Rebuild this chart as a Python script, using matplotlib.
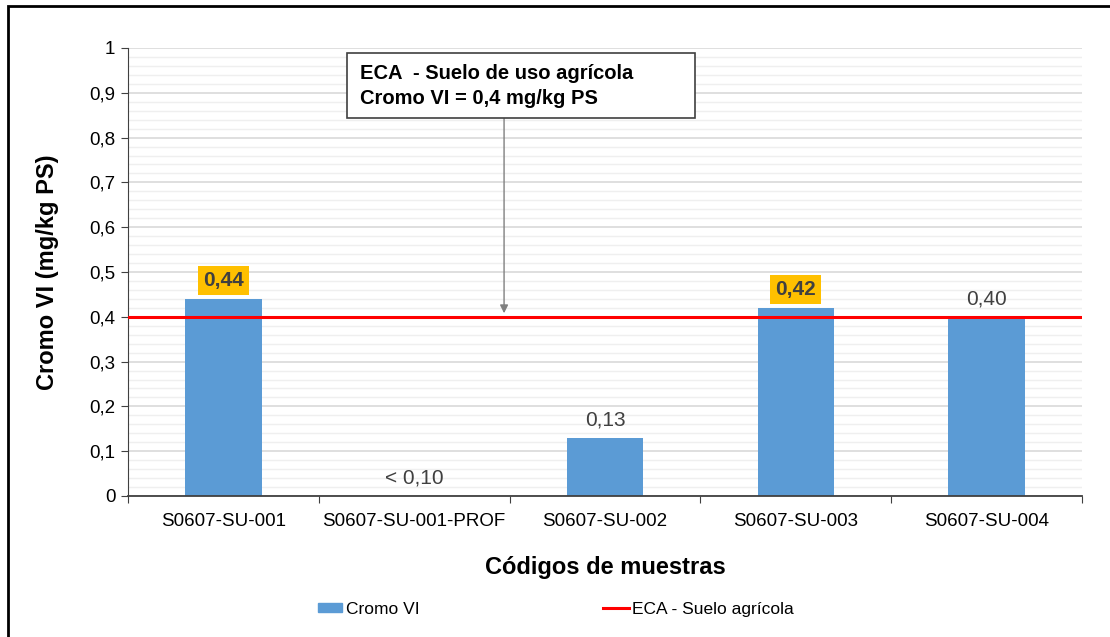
import matplotlib.pyplot as plt
import matplotlib.patches as mpatches
from matplotlib.lines import Line2D
import numpy as np

plt.rcParams['font.family'] = ['Liberation Sans', 'DejaVu Sans']

muestras = ['S0607-SU-001', 'S0607-SU-001-PROF', 'S0607-SU-002', 'S0607-SU-003', 'S0607-SU-004']
cromo_vi = [0.44, 0.0, 0.13, 0.42, 0.40]
etiquetas = ['0,44', '< 0,10', '0,13', '0,42', '0,40']
excede = [True, False, False, True, False]
eca = 0.4

fig = plt.figure(figsize=(11.1, 6.37), dpi=100)
ax = fig.add_axes([128 / 1110, 1 - 496 / 637, (1082 - 128) / 1110, (496 - 48) / 637])

# outer frame (left/top edges only show in the crop)
fig.patches.append(mpatches.Rectangle((8 / 1110, -0.05), 1.2, 1 - 6 / 637 + 0.05,
                                      transform=fig.transFigure, fill=False,
                                      edgecolor='black', linewidth=2))

x = np.arange(len(muestras))
ax.bar(x, cromo_vi, width=0.4, color='#5B9BD5', zorder=2)
ax.axhline(eca, color='#FF0000', linewidth=2.2, zorder=3)

for xi, v, lab, ex in zip(x, cromo_vi, etiquetas, excede):
    if ex:
        ax.text(xi, v + 0.04, lab, ha='center', va='center', fontsize=15,
                fontweight='bold', color='#404040', zorder=4,
                bbox=dict(boxstyle='square,pad=0.24', facecolor='#FFC000', edgecolor='none'))
    else:
        ax.text(xi, v + 0.04, lab, ha='center', va='center', fontsize=15,
                color='#404040', zorder=4)

ax.set_xlim(-0.5, len(muestras) - 0.5)
ax.set_ylim(0, 1)
ax.set_yticks(np.arange(0, 1.01, 0.1))
ax.set_yticklabels(['0'] + [f'{v:.1f}'.replace('.', ',') for v in np.arange(0.1, 0.95, 0.1)] + ['1'])
ax.set_yticks(np.arange(0, 1.001, 0.02), minor=True)
ax.tick_params(axis='y', which='minor', length=0)
ax.tick_params(axis='y', which='major', length=5, color='#404040', labelsize=13.5, pad=4)
ax.grid(axis='y', which='major', color='#D9D9D9', linewidth=1.2, zorder=0)
ax.grid(axis='y', which='minor', color='#EFEFEF', linewidth=1.0, zorder=0)
ax.set_axisbelow(True)

ax.set_xticks(np.arange(-0.5, len(muestras), 1.0))
ax.set_xticklabels([])
ax.set_xticks(x, minor=True)
ax.set_xticklabels(muestras, minor=True)
ax.tick_params(axis='x', which='major', length=5, color='#404040')
ax.tick_params(axis='x', which='minor', length=0, labelsize=13.5, pad=12)

for s in ['top', 'right']:
    ax.spines[s].set_visible(False)
ax.spines['left'].set_color('#404040')
ax.spines['bottom'].set_color('#404040')
ax.spines['bottom'].set_linewidth(1.3)

ax.set_ylabel('Cromo VI (mg/kg PS)', fontsize=17, fontweight='bold', labelpad=22)
ax.set_xlabel('Códigos de muestras', fontsize=17, fontweight='bold', labelpad=19)

# ECA annotation box with arrow down to the limit line
ax.add_patch(mpatches.Rectangle((0.648, 0.844), 2.472 - 0.648, 0.989 - 0.844,
                                facecolor='white', edgecolor='#404040', lw=1.2, zorder=6))
ax.text(0.716, 0.944, 'ECA  - Suelo de uso agrícola', fontsize=14.5, fontweight='bold',
        va='center', ha='left', zorder=7)
ax.text(0.716, 0.887, 'Cromo VI = 0,4 mg/kg PS', fontsize=14.5, fontweight='bold',
        va='center', ha='left', zorder=7)
ax.annotate('', xy=(1.471, eca + 0.008), xytext=(1.471, 0.844),
            arrowprops=dict(arrowstyle='-|>', color='#808080', lw=1,
                            mutation_scale=12, shrinkA=0, shrinkB=0), zorder=5)

fig.legend(handles=[mpatches.Patch(color='#5B9BD5', label='Cromo VI')],
           loc='center left', bbox_to_anchor=(318 / 1110, 1 - 609 / 637),
           frameon=False, fontsize=12.5, handlelength=1.4, handleheight=0.45,
           handletextpad=0.2, borderpad=0, borderaxespad=0)
fig.legend(handles=[Line2D([0], [0], color='#FF0000', lw=2.2, label='ECA - Suelo agrícola')],
           loc='center left', bbox_to_anchor=(603 / 1110, 1 - 609 / 637),
           frameon=False, fontsize=12.5, handlelength=1.5, handletextpad=0.15,
           borderpad=0, borderaxespad=0)

fig.savefig('out.png', dpi=100)
